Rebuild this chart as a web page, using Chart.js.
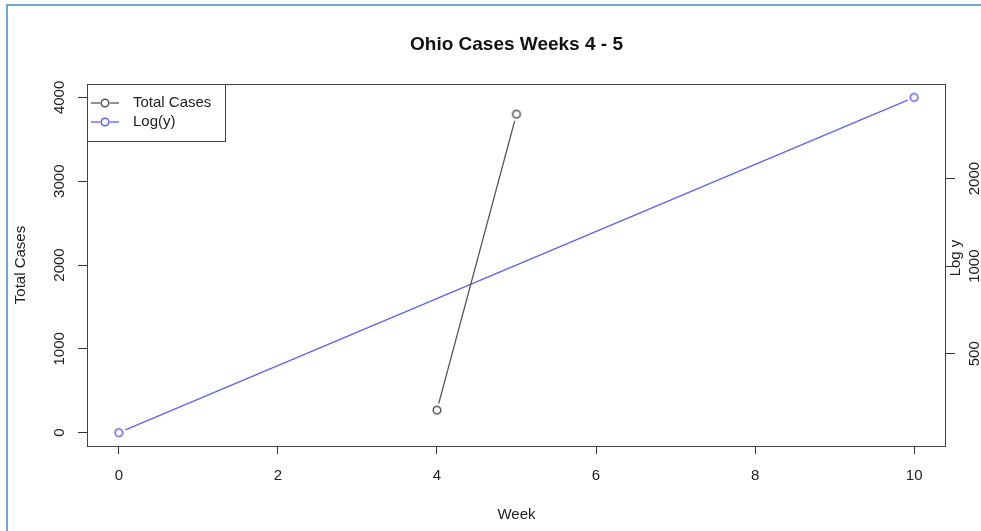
<!DOCTYPE html>
<html>
<head>
<meta charset="utf-8">
<script src="https://cdn.jsdelivr.net/npm/chart.js@4/dist/chart.umd.min.js"></script>
<style>
  html, body { margin: 0; padding: 0; background: #fff; }
  #wrap { position: relative; width: 981px; height: 531px; overflow: hidden; }
  #frame { position: absolute; left: 6px; top: 4px; width: 1000px; height: 560px;
           border-top: 2px solid #76a5da; border-left: 2px solid #76a5da; pointer-events: none; }
</style>
</head>
<body>
<div id="wrap">
  <canvas id="c" width="981" height="531"></canvas>
  <div id="frame"></div>
</div>
<script>
// ---- data ----
const titleText = 'Ohio Cases Weeks 4 - 5';
const weeks = [4, 5];
const totalCases = [268, 3800];
const logX = [0, 10];
const logY = [268, 3800];
const seriesNames = ['Total Cases', 'Log(y)'];
const xTicks = [0, 2, 4, 6, 8, 10];
const leftTicks = [0, 1000, 2000, 3000, 4000];
const rightTicks = [500, 1000, 2000];

// ---- styling ----
const FONT = "'Liberation Sans', Arial, Helvetica, sans-serif";
const TXT = '#222';
const AXIS = '#333';
const BLACK_SERIES = '#555';
const BLUE_SERIES = '#5f5fff';

// open circle with a white halo, so the line stops short of the marker
function ringMarker(color, halo) {
  const s = 16, c = document.createElement('canvas');
  c.width = s; c.height = s;
  const g = c.getContext('2d');
  g.fillStyle = '#fff';
  g.beginPath(); g.arc(s / 2, s / 2, halo, 0, Math.PI * 2); g.fill();
  g.strokeStyle = color; g.lineWidth = 1.5;
  g.beginPath(); g.arc(s / 2, s / 2, 3.8, 0, Math.PI * 2); g.stroke();
  return c;
}
const blackMarker = ringMarker(BLACK_SERIES, 7);
const blueMarker = ringMarker(BLUE_SERIES, 7);
const legendMarkers = [ringMarker(BLACK_SERIES, 5), ringMarker(BLUE_SERIES, 5)];

function setTicks(list) {
  return scale => { scale.ticks = list.map(v => ({ value: v })); };
}

// box, rotated axis labels, title and legend
const decorations = {
  id: 'decorations',
  afterDraw(chart) {
    const ctx = chart.ctx;
    const a = chart.chartArea;
    const yL = chart.scales.y, yR = chart.scales.y2;
    ctx.save();

    // plot frame
    ctx.strokeStyle = '#444';
    ctx.lineWidth = 1;
    ctx.strokeRect(Math.round(a.left) + 0.5, Math.round(a.top) + 0.5,
                   Math.round(a.right - a.left) - 1, Math.round(a.bottom - a.top));

    // rotated tick labels
    ctx.fillStyle = TXT;
    ctx.font = '15px ' + FONT;
    ctx.textAlign = 'center';
    ctx.textBaseline = 'middle';
    const rotText = (txt, x, y) => {
      ctx.save(); ctx.translate(x, y); ctx.rotate(-Math.PI / 2);
      ctx.fillText(txt, 0, 0); ctx.restore();
    };
    leftTicks.forEach(v => rotText(String(v), 60, yL.getPixelForValue(v)));
    rightTicks.forEach(v => rotText(String(v), 975, yR.getPixelForValue(v)));
    rotText('Log y', 956, 258);

    // title
    ctx.font = 'bold 19px ' + FONT;
    ctx.fillStyle = '#111';
    ctx.fillText(titleText, (a.left + a.right) / 2, 45);

    // legend
    const lx = Math.round(a.left), ly = Math.round(a.top);
    ctx.fillStyle = '#fff';
    ctx.fillRect(lx, ly, 138, 57);
    ctx.strokeStyle = '#444';
    ctx.strokeRect(lx + 0.5, ly + 0.5, 138, 57);
    const colors = [BLACK_SERIES, BLUE_SERIES];
    chart.data.datasets.forEach((ds, i) => {
      const y = ly + 19 + i * 19;
      ctx.strokeStyle = colors[i];
      ctx.lineWidth = 1.3;
      ctx.beginPath(); ctx.moveTo(lx + 4, y); ctx.lineTo(lx + 32, y); ctx.stroke();
      ctx.drawImage(legendMarkers[i], lx + 18 - 8, y - 8);
      ctx.fillStyle = TXT;
      ctx.font = '15px ' + FONT;
      ctx.textAlign = 'left';
      ctx.fillText(ds.label, lx + 46, y);
    });
    ctx.restore();
  }
};

new Chart(document.getElementById('c'), {
  type: 'scatter',
  data: {
    datasets: [
      {
        label: seriesNames[0],
        data: weeks.map((w, i) => ({ x: w, y: totalCases[i] })),
        showLine: true,
        borderColor: BLACK_SERIES,
        borderWidth: 1.3,
        pointStyle: blackMarker,
        yAxisID: 'y'
      },
      {
        label: seriesNames[1],
        data: logX.map((w, i) => ({ x: w, y: logY[i] })),
        showLine: true,
        borderColor: BLUE_SERIES,
        borderWidth: 1.3,
        pointStyle: blueMarker,
        yAxisID: 'y2'
      }
    ]
  },
  options: {
    responsive: false,
    animation: false,
    devicePixelRatio: 1,
    layout: { padding: { top: 84, left: 0, right: 0, bottom: 0 } },
    plugins: { legend: { display: false }, tooltip: { enabled: false }, title: { display: false } },
    scales: {
      x: {
        type: 'linear', min: -0.4, max: 10.4,
        afterBuildTicks: setTicks(xTicks),
        afterFit: s => { s.height = 85; },
        grid: { drawOnChartArea: false, drawTicks: true, tickLength: 8, color: AXIS },
        border: { display: false },
        ticks: { font: { size: 15, family: FONT }, color: TXT, padding: 13, maxRotation: 0 },
        title: { display: true, text: 'Week', color: TXT, font: { size: 15, family: FONT },
                 padding: { top: 0, bottom: 7 } }
      },
      y: {
        type: 'linear', position: 'left', min: -160, max: 4160,
        afterBuildTicks: setTicks(leftTicks),
        afterFit: s => { s.width = 87; },
        grid: { drawOnChartArea: false, drawTicks: true, tickLength: 9, color: AXIS },
        border: { display: false },
        ticks: { color: 'rgba(0,0,0,0)', font: { size: 15, family: FONT } },
        title: { display: true, text: 'Total Cases', color: TXT, font: { size: 15, family: FONT },
                 padding: { top: 12, bottom: 0 } }
      },
      y2: {
        type: 'logarithmic', position: 'right', min: 241, max: 4226,
        afterBuildTicks: setTicks(rightTicks),
        afterFit: s => { s.width = 35; },
        grid: { drawOnChartArea: false, drawTicks: true, tickLength: 9, color: AXIS },
        border: { display: false },
        ticks: { color: 'rgba(0,0,0,0)', font: { size: 15, family: FONT } }
      }
    }
  },
  plugins: [decorations]
});
</script>
</body>
</html>
